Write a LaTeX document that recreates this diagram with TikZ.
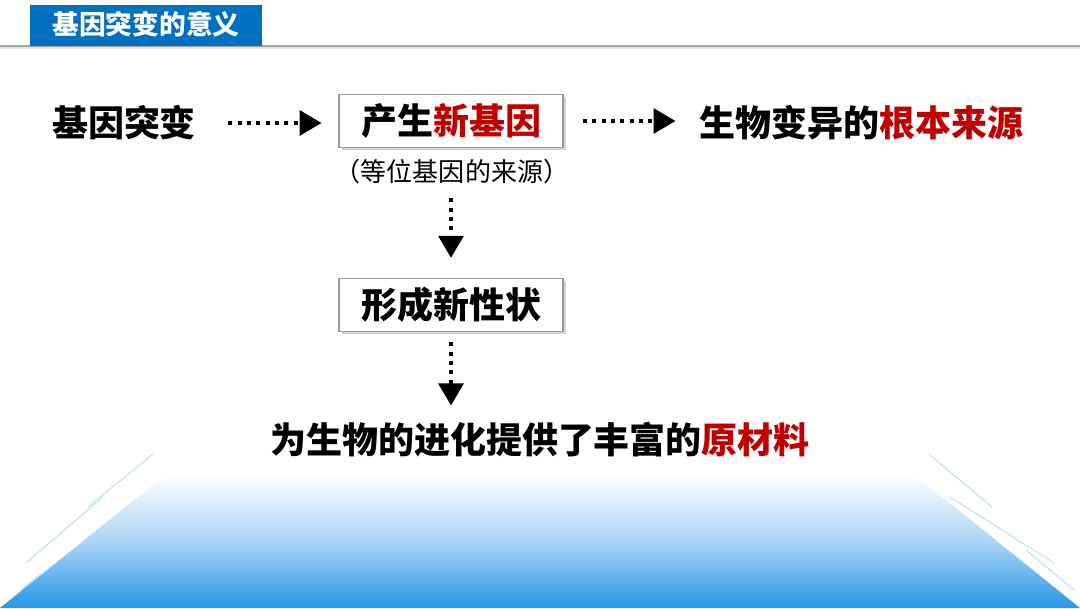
\documentclass[tikz,border=0pt]{standalone}
\usepackage{fontspec}
\newfontfamily\cjk{Noto Sans CJK SC}
\usetikzlibrary{arrows.meta,shadows}
\definecolor{titleblue}{RGB}{0,112,192}
\definecolor{keyred}{RGB}{192,0,0}
\definecolor{floorblue}{RGB}{40,150,230}
\begin{document}
\begin{tikzpicture}[x=0.025cm, y=0.025cm, font=\cjk\bfseries\fontsize{25.6}{30}\selectfont]
    \tikzset{box/.style={draw=gray!80, fill=white, line width=0.8pt, minimum width=5.6cm, minimum height=1.33cm, inner sep=0pt, drop shadow={shadow xshift=2pt, shadow yshift=-2pt, opacity=0.35}},
      txt/.style={inner sep=0pt},
      dots/.style={line width=2.85pt, dash pattern=on 2.85pt off 3.8pt, -{Triangle[length=0.55cm, width=0.62cm]}}}
    \useasboundingbox (0,0) rectangle (1080,608);
    % floor
    \shade[top color=white, bottom color=floorblue, middle color=floorblue!40] (165,133) -- (915,133) -- (1080,0) -- (0,0) -- cycle;
    \foreach \a/\b/\c/\d in {153/154/88/101, 103/111/26/45, 41/35/21/18, 930/153/992/101, 950/111/1054/45, 1026/58/1074/18}
      \draw[floorblue!50, line width=0.4pt] (\a,\b) -- (\c,\d);
    % header
    \draw[gray!25, line width=2pt] (0,560) -- (1080,560);
    \draw[gray!70, line width=1pt] (0,562) -- (1080,562);
    \fill[titleblue] (30,562) rectangle (262,603);
    \node[txt, text=white, font=\cjk\bfseries\fontsize{19}{22}\selectfont] (title) at (146,584) {基因突变的意义};
    % flow
    \node[txt] (src) at (124,485) {基因突变};
    \node[box] (gene) at (451,487) {产生\textcolor{keyred}{新基因}};
    \node[txt, font=\cjk\fontsize{18.5}{22}\selectfont] (note) at (452,436) {（等位基因的来源）};
    \node[txt] (root) at (861,485) {生物变异的\textcolor{keyred}{根本来源}};
    \node[box] (trait) at (451,303) {形成新性状};
    \node[txt] (goal) at (540,168) {为生物的进化提供了丰富的\textcolor{keyred}{原材料}};
    \draw[dots, shorten <=0.8cm, shorten >=0.42cm] (src.east) -- (src.east -| gene.west);
    \draw[dots, shorten <=0.48cm, shorten >=0.58cm] (gene.east) -- (gene.east -| root.west);
    \draw[dots, shorten <=1.25cm, shorten >=0.5cm] (gene.south) -- (trait.north);
    \draw[dots, shorten <=0.25cm, shorten >=0.42cm] (trait.south) -- (trait.south |- goal.north);
  \end{tikzpicture}
\end{document}
